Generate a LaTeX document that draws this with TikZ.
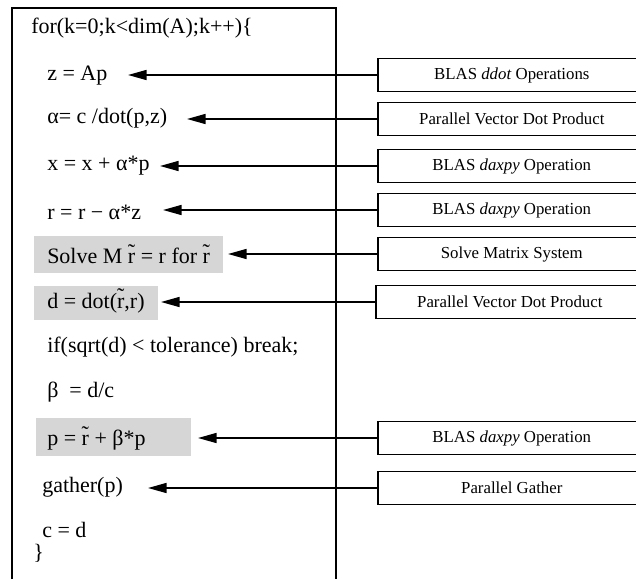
\documentclass[tikz,border=0pt]{standalone}
\usepackage{fontspec}
\setmainfont{Liberation Serif}
\usetikzlibrary{arrows.meta, positioning}

% r with a tilde set high above it
\newcommand{\rtil}{\leavevmode\hbox{\ooalign{r\cr\hidewidth\raisebox{0.2em}{\char"02DC}\hidewidth\cr}}}

\begin{document}
\begin{tikzpicture}[
  x=0.75pt, y=-0.75pt,
  code/.style={anchor=west, inner sep=0pt, font=\fontsize{16.5}{19}\selectfont},
  opbox/.style={draw, line width=1.2pt, fill=white, anchor=west,
                minimum width=201pt, minimum height=24.5pt, inner sep=0pt,
                text centered, font=\fontsize{12.6}{15}\selectfont},
  arrow/.style={-{Triangle[length=14pt, width=7.5pt]}, line width=1.2pt},
  frame/.style={line width=1.3pt},
  hilite/.style={fill=black!16},
]
\useasboundingbox (0,0) rectangle (636,579);

%% Shaded statements
\fill[hilite] (34,236) rectangle (223,273);
\fill[hilite] (34,286) rectangle (158,320);
\fill[hilite] (36,418) rectangle (191,456);

%% Loop frame
\draw[frame] (12,579) -- (12,8) -- (336,8) -- (336,579);

%% Loop body
\node[code] (c0)  at (31,28)  {for(k=0;k<dim(A);k++)\{};
\node[code] (c1)  at (47,76)  {z = Ap};
\node[code] (c2)  at (47,118) {α= c /dot(p,z)};
\node[code] (c3)  at (47,166) {x = x + α*p};
\node[code] (c4)  at (47,212) {r = r − α*z};
\node[code] (c5)  at (47,256) {Solve M \rtil\ = r for \rtil};
\node[code] (c6)  at (47,303) {d = dot(\rtil,r)};
\node[code] (c7)  at (47,347) {if(sqrt(d) < tolerance) break;};
\node[code] (c8)  at (47,392) {β\ \ = d/c};
\node[code] (c9)  at (47,440) {p = \rtil\ + β*p};
\node[code] (c10) at (42,487) {gather(p)};
\node[code] (c11) at (42,530) {c = d};
\node[code] (c12) at (33,553) {\}};

%% Arrow tips
\coordinate (t1) at (128,75);
\coordinate (t2) at (187,119);
\coordinate (t3) at (160,166);
\coordinate (t4) at (163,210);
\coordinate (t5) at (228,254);
\coordinate (t6) at (161,302);
\coordinate (t7) at (198,438);
\coordinate (t8) at (148,488);

%% Operation boxes
\node[opbox] (l1) at (377,75)  {BLAS \textit{ddot} Operations};
\node[opbox] (l2) at (377,119) {Parallel Vector Dot Product};
\node[opbox] (l3) at (377,166) {BLAS \textit{daxpy} Operation};
\node[opbox] (l4) at (377,210) {BLAS \textit{daxpy} Operation};
\node[opbox] (l5) at (377,254) {Solve Matrix System};
\node[opbox] (l6) at (375,302) {Parallel Vector Dot Product};
\node[opbox] (l7) at (377,438) {BLAS \textit{daxpy} Operation};
\node[opbox] (l8) at (377,488) {Parallel Gather};

%% Arrows
\draw[arrow] (l1.west) -- (t1);
\draw[arrow] (l2.west) -- (t2);
\draw[arrow] (l3.west) -- (t3);
\draw[arrow] (l4.west) -- (t4);
\draw[arrow] (l5.west) -- (t5);
\draw[arrow] (l6.west) -- (t6);
\draw[arrow] (l7.west) -- (t7);
\draw[arrow] (l8.west) -- (t8);

\end{tikzpicture}
\end{document}
